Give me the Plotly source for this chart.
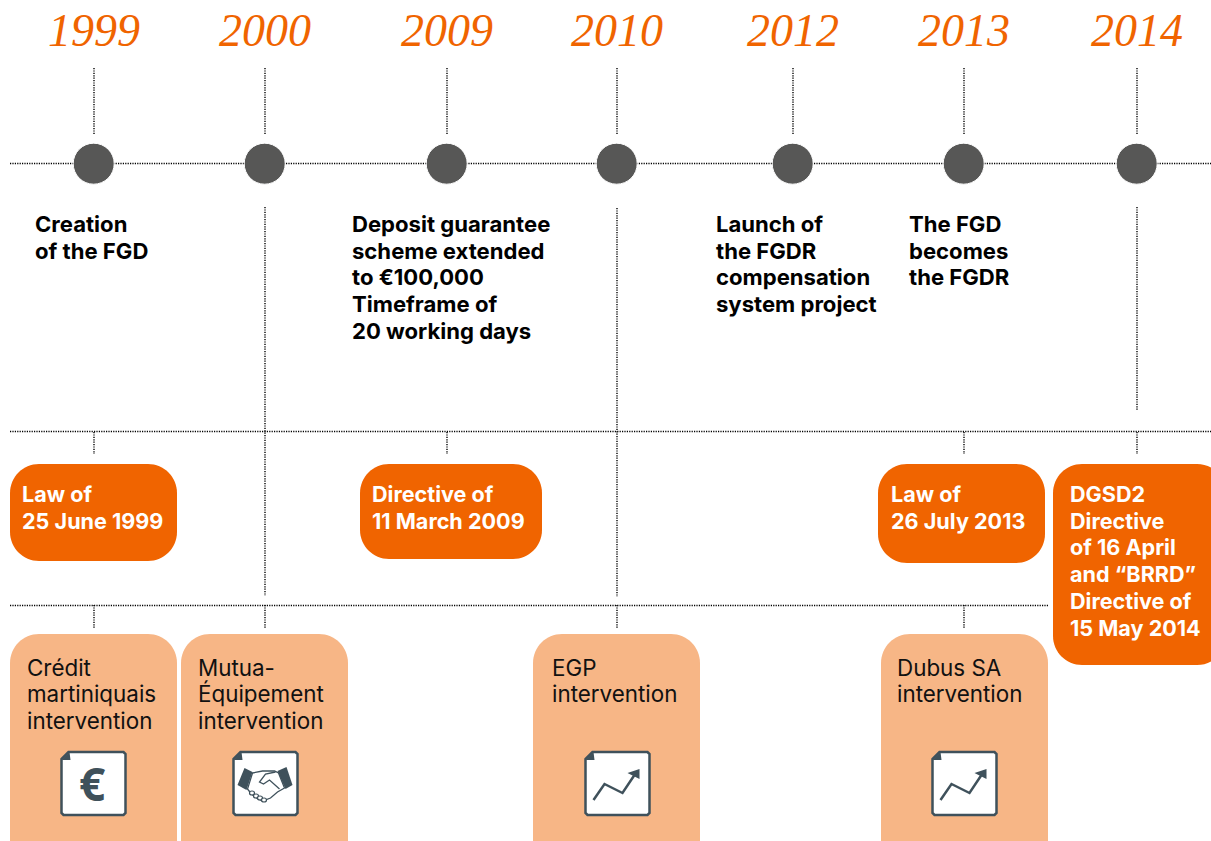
import plotly.graph_objects as go

# ---- content ----
years = ["1999", "2000", "2009", "2010", "2012", "2013", "2014"]
events = ["Creation<br>of the FGD",
          "Deposit guarantee<br>scheme extended<br>to €100,000<br>Timeframe of<br>20 working days",
          "Launch of<br>the FGDR<br>compensation<br>system project",
          "The FGD<br>becomes<br>the FGDR"]
laws = ["Law of<br>25 June 1999", "Directive of<br>11 March 2009", "Law of<br>26 July 2013",
        "DGSD2<br>Directive<br>of 16 April<br>and “BRRD”<br>Directive of<br>15 May 2014"]
interventions = ["Crédit<br>martiniquais<br>intervention", "Mutua-<br>Équipement<br>intervention",
                 "EGP<br>intervention", "Dubus SA<br>intervention"]
icons = ["euro", "hands", "chart", "chart"]

# ---- layout (page pixels) ----
W, H = 1211, 841
year_x = [94, 265, 447, 617, 793, 964, 1137]
event_xy = [(35, 224), (352, 224), (716, 224), (909, 224)]
law_boxes = [(10, 177, 464, 561), (360, 542, 464, 559), (878, 1045, 464, 563), (1053, 1226, 464, 665)]
law_xy = [(22, 494), (372, 494), (891, 494), (1070, 494)]
int_boxes = [(10, 177, 634, 870), (181, 348, 634, 870), (533, 700, 634, 870), (881, 1048, 634, 870)]
int_xy = [(27, 667), (198, 667), (552, 667), (897, 667)]
icon_xy = [(61.5, 752), (233.5, 752), (585.5, 752), (932.5, 752)]

ORANGE, LIGHT, GREY, SLATE = "#F06400", "#F7B686", "#575756", "#3F515B"
SANS = "Inter, 'Noto Sans', sans-serif"

segs = [(10, 163.5, W, 163.5), (10, 431.5, W, 431.5), (10, 605.5, 1048, 605.5),
        (265, 207, 265, 596), (617, 208, 617, 597), (1137, 207, 1137, 411)]
segs += [(x, 68, x, 134) for x in year_x]
segs += [(x, 432, x, 454) for x in (94, 447, 964, 1137)]
segs += [(x, 605, x, 628) for x in (94, 265, 617, 964)]
lx, ly = [], []
for a, b, c, d in segs:
    lx += [a, c, None]
    ly += [b, d, None]

fig = go.Figure()
fig.add_trace(go.Scatter(x=lx, y=ly, mode="lines", hoverinfo="skip",
                         line=dict(color="#000000", width=1.4, dash="1.2px,1.2px")))
fig.add_trace(go.Scatter(x=[x - 0.3 for x in year_x], y=[163.7] * len(year_x), mode="markers", hoverinfo="skip",
                         marker=dict(size=41, color=GREY, line=dict(color="white", width=1))))


def rrect(x0, x1, y0, y1, r=29):
    k = r * 0.448
    return (f"M{x0+r},{y0} L{x1-r},{y0} C{x1-k},{y0} {x1},{y0+k} {x1},{y0+r} L{x1},{y1-r} "
            f"C{x1},{y1-k} {x1-k},{y1} {x1-r},{y1} L{x0+r},{y1} C{x0+k},{y1} {x0},{y1-k} {x0},{y1-r} "
            f"L{x0},{y0+r} C{x0},{y0+k} {x0+k},{y0} {x0+r},{y0} Z")


shapes, ann = [], []
for b in law_boxes:
    shapes.append(dict(type="path", path=rrect(*b), fillcolor=ORANGE, line_width=0, layer="below"))
for b in int_boxes:
    shapes.append(dict(type="path", path=rrect(*b), fillcolor=LIGHT, line_width=0, layer="below"))


def poly(ox, oy, pts, close=True):
    s = "M" + " L".join(f"{ox+p},{oy+q}" for p, q in pts)
    return s + (" Z" if close else "")


for kind, (ox, oy) in zip(icons, icon_xy):
    shapes.append(dict(type="path", line=dict(color=SLATE, width=2.5), fillcolor="white",
                       path=poly(ox, oy, [(7, 0), (62, 0), (64, 2), (64, 61), (62, 63), (2, 63), (0, 61), (0, 7)])))
    shapes.append(dict(type="path", line_width=0, fillcolor=SLATE, path=poly(ox, oy, [(0, 8), (8, 0), (9, 8)])))
    if kind == "chart":
        shapes.append(dict(type="path", line=dict(color=SLATE, width=2.5), path=poly(ox, oy, [(8, 48), (19, 32), (37, 41), (51, 20)], False)))
        shapes.append(dict(type="path", line_width=0, fillcolor=SLATE, path=poly(ox, oy, [(42, 21), (54, 17), (54, 27)])))
    elif kind == "euro":
        ann.append(dict(x=ox + 30, y=oy + 31, text="€", showarrow=False, xanchor="center", yanchor="middle",
                        font=dict(family="'Open Sans', sans-serif", size=46, color=SLATE, weight=700)))
    else:
        shapes.append(dict(type="path", line_width=0, fillcolor=SLATE, path=poly(ox, oy, [(4, 33), (11, 16), (19, 20), (13, 38)])))
        shapes.append(dict(type="path", line_width=0, fillcolor=SLATE, path=poly(ox, oy, [(44, 19), (53, 15), (59, 33), (52, 37)])))
        shapes.append(dict(type="path", line=dict(color=SLATE, width=1.3), fillcolor="white",
                           path=poly(ox, oy, [(19, 21), (29, 19), (41, 19), (45, 21), (51, 36), (44, 40), (37, 46),
                                              (29, 49), (23, 46), (18, 42), (14, 37)])))
        shapes.append(dict(type="path", line=dict(color=SLATE, width=1.3),
                           path=poly(ox, oy, [(42, 20), (32, 22), (26, 30), (30, 32), (36, 28), (46, 37)], False)))
        for c in [(16, 39, 21, 43), (20, 42, 25, 46), (24, 44, 29, 48), (28, 46, 33, 50)]:
            shapes.append(dict(type="circle", x0=ox + c[0], y0=oy + c[1], x1=ox + c[2], y1=oy + c[3],
                               line=dict(color=SLATE, width=1.2), fillcolor="white"))


def label(x, y, text, size, color, weight=400, family=SANS, anchor="left", style="normal", step=26.7):
    for i, line in enumerate(text.split("<br>")):
        ann.append(dict(x=x, y=y + i * step, text=line, showarrow=False, xanchor=anchor, yanchor="middle",
                        align=anchor, borderpad=0, borderwidth=0,
                        font=dict(family=family, size=size, color=color, weight=weight, style=style)))


for t, x in zip(years, year_x):
    label(x, 30, t, 46, ORANGE, family="'Liberation Serif', serif", anchor="center", style="italic")
for t, (x, y) in zip(events, event_xy):
    label(x, y, t, 22.1, "#000000", weight=700)
for t, (x, y) in zip(laws, law_xy):
    label(x, y, t, 21.6, "#FFFFFF", weight=700)
for t, (x, y) in zip(interventions, int_xy):
    label(x, y, t, 22.4, "#111111", step=26.5)

fig.update_layout(
    width=W, height=H, margin=dict(l=0, r=0, t=0, b=0), showlegend=False,
    paper_bgcolor="white", plot_bgcolor="white", shapes=shapes, annotations=ann,
    xaxis=dict(range=[0, W], visible=False, fixedrange=True),
    yaxis=dict(range=[H, 0], visible=False, fixedrange=True),
)
fig.write_html("out.html", config={"displayModeBar": False},
               post_script="document.body.style.margin='0';document.body.style.overflow='hidden';")
